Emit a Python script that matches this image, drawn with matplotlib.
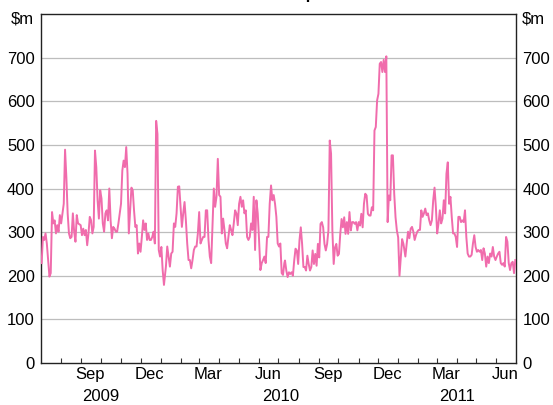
import matplotlib.pyplot as plt
import matplotlib.dates as mdates
from matplotlib.ticker import FixedLocator
import numpy as np
import pandas as pd

plt.rcParams['font.family'] = ['Liberation Sans', 'DejaVu Sans']

# daily values ($m) in four stretches
seg_a_start, seg_a_end = "2009-07-02", "2010-01-06"
seg_a = [229, 289, 282, 297, 274, 236, 198, 206, 346, 320, 327, 297, 316, 301, 339, 320,
         343, 365, 489, 426, 343, 297, 286, 289, 343, 301, 278, 339, 320, 318, 316, 293,
         308, 293, 305, 270, 297, 335, 327, 297, 312, 487, 449, 373, 331, 396, 377, 320,
         301, 343, 350, 327, 400, 327, 286, 312, 308, 301, 301, 320, 343, 365, 441, 464,
         449, 495, 434, 297, 350, 402, 396, 350, 312, 316, 251, 274, 255, 289, 327, 305,
         320, 282, 297, 282, 282, 289, 301, 274, 555, 525, 259, 244, 266, 213, 179]

seg_b_start, seg_b_end = "2010-01-09", "2010-07-10"
seg_b = [221, 267, 244, 221, 251, 255, 320, 312, 343, 404, 405, 358, 312, 343, 369, 327,
         274, 236, 236, 217, 236, 259, 267, 267, 297, 346, 274, 282, 289, 289, 350, 350,
         282, 244, 229, 312, 400, 358, 381, 468, 385, 381, 297, 331, 305, 274, 263, 289,
         316, 305, 293, 320, 350, 343, 316, 365, 381, 358, 373, 343, 350, 289, 282, 289,
         320, 305, 381, 259, 373, 343, 282, 213, 229, 236, 244, 229, 289, 289, 365, 407,
         373, 385, 365, 335, 274, 267, 274, 206, 202, 229]

seg_c_start, seg_c_end = "2010-07-11", "2011-01-09"
seg_c = [235, 212, 197, 208, 204, 208, 200, 235, 262, 258, 227, 281, 311, 273, 220, 220,
         212, 246, 227, 212, 220, 258, 227, 250, 223, 273, 242, 319, 323, 311, 273, 258,
         273, 304, 510, 480, 304, 227, 265, 273, 246, 250, 296, 330, 311, 334, 296, 323,
         296, 346, 304, 323, 323, 319, 323, 304, 323, 315, 342, 311, 365, 388, 384, 342,
         338, 338, 357, 350, 533, 541, 602, 617, 686, 690, 667, 695, 667, 703, 323, 384,
         373, 476, 476, 388, 334, 304, 288, 200, 242, 284, 273]

seg_d_start, seg_d_end = "2011-01-12", "2011-06-30"
seg_d = [244, 274, 301, 286, 308, 312, 301, 282, 293, 301, 305, 305, 350, 335, 343, 354,
         339, 343, 327, 316, 327, 373, 402, 358, 297, 320, 350, 320, 331, 373, 343, 434,
         460, 365, 381, 335, 297, 297, 289, 266, 335, 335, 323, 327, 323, 350, 289, 251,
         244, 244, 248, 274, 293, 266, 255, 259, 255, 259, 236, 263, 251, 221, 244, 229,
         251, 244, 266, 244, 236, 244, 251, 255, 229, 225, 229, 221, 289, 278, 229, 213,
         229, 232, 206, 236]

segments = [(seg_a_start, seg_a_end, seg_a), (seg_b_start, seg_b_end, seg_b),
            (seg_c_start, seg_c_end, seg_c), (seg_d_start, seg_d_end, seg_d)]
dates = []
values = []
for s, e, v in segments:
    dates.extend(pd.date_range(s, e, periods=len(v)))
    values.extend(v)
series = pd.Series(values, index=pd.DatetimeIndex(dates))

month_labels = ["Sep", "Dec", "Mar", "Jun", "Sep", "Dec", "Mar", "Jun"]
month_label_dates = pd.to_datetime(["2009-09-15", "2009-12-15", "2010-03-15", "2010-06-15",
                                    "2010-09-15", "2010-12-15", "2011-03-15", "2011-06-15"])
years = ["2009", "2010", "2011"]
year_centres = pd.to_datetime(["2009-10-01", "2010-07-04", "2011-04-01"])
y_ticks = [0, 100, 200, 300, 400, 500, 600, 700]

fig = plt.figure(figsize=(5.53, 4.05), dpi=100)
ax = fig.add_axes([0.0741, 0.1037, 0.8590, 0.8617])

ax.plot(series.index, series.values, color='#F06CAC', lw=1.4, zorder=3)

ax.set_xlim(pd.Timestamp("2009-07-01"), pd.Timestamp("2011-07-01"))
ax.set_ylim(0, 800)

for v in y_ticks[1:]:
    ax.axhline(v, color='#bdbdbd', lw=0.9, zorder=1)

ax.set_yticks(y_ticks)
ax.tick_params(axis='y', length=0, labelsize=12, pad=4.5, labelright=True, right=False)

month_starts = pd.date_range("2009-08-01", "2011-06-01", freq='MS')
ax.xaxis.set_minor_locator(FixedLocator(mdates.date2num(month_starts)))
ax.set_xticks(month_label_dates)
ax.set_xticklabels(month_labels)
ax.tick_params(axis='x', which='major', length=0, labelsize=12, pad=3)
ax.tick_params(axis='x', which='minor', length=3.6, direction='in', width=0.8, color='#333333')

for lab, d in zip(years, year_centres):
    ax.text(d, -0.097, lab, transform=ax.get_xaxis_transform(), ha='center', va='center', fontsize=12)

ax.text(-0.014, 0.986, r"\$m", transform=ax.transAxes, ha='right', va='center', fontsize=12)
ax.text(1.012, 0.986, r"\$m", transform=ax.transAxes, ha='left', va='center', fontsize=12)

for sp in ax.spines.values():
    sp.set_linewidth(1.0)
    sp.set_color('#222222')

# title sits almost entirely above the top edge, as in the original
fig.text(0.52, 1.0 + 0.6 / 405, "Turnover in Repo Market", ha='center', va='baseline',
         fontsize=12, fontweight='bold')

fig.savefig("out.png", dpi=100)
